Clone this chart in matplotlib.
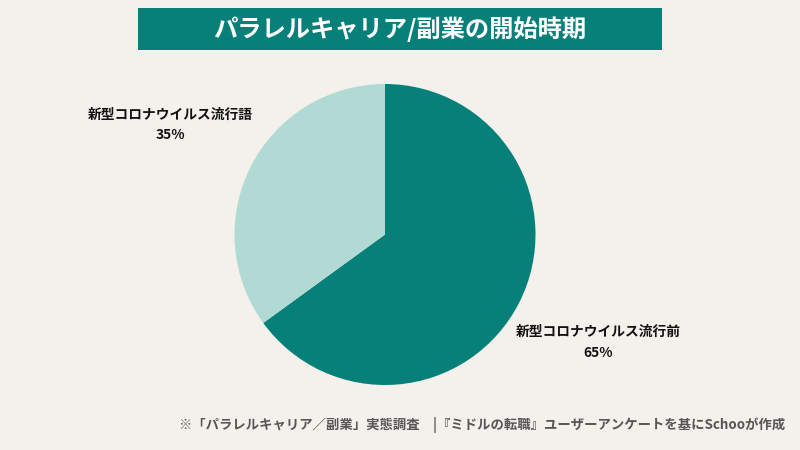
import matplotlib
matplotlib.use('Agg')
import matplotlib.pyplot as plt
from matplotlib.patches import Rectangle

plt.rcParams['font.family'] = ['Noto Sans CJK JP', 'DejaVu Sans']

labels = ['新型コロナウイルス流行前', '新型コロナウイルス流行語']
values = [65, 35]
colors = ['#08807a', '#b2dad4']
title = 'パラレルキャリア/副業の開始時期'
note = '※「パラレルキャリア／副業」実態調査　|『ミドルの転職』ユーザーアンケートを基にSchooが作成'

bg = '#f4f1ec'
fig = plt.figure(figsize=(8, 4.5), dpi=100, facecolor=bg)

# pie: center (385, 235), radius 150 px
ax = fig.add_axes([234.5 / 800, 1 - 385 / 450, 301 / 800, 301 / 450])
ax.pie(values, colors=colors, startangle=90, counterclock=False, radius=1,
       wedgeprops={'linewidth': 0})
ax.set_xlim(-1, 1)
ax.set_ylim(-1, 1)
ax.set_aspect('equal')

# title band
fig.patches.append(Rectangle((138 / 800, 1 - 50 / 450), 524 / 800, 42 / 450,
                             transform=fig.transFigure, facecolor='#08807a', edgecolor='none'))
fig.text(400 / 800, 1 - 29 / 450, title, color='white', fontsize=17.5, fontweight='bold',
         ha='center', va='center')

fig.text(598 / 800, 1 - 332 / 450, labels[0], color='#111111', fontsize=9.9, fontweight='bold',
         ha='center', va='center')
fig.text(598 / 800, 1 - 353 / 450, f'{values[0]}%', color='#111111', fontsize=9.9, fontweight='bold',
         ha='center', va='center')
fig.text(170 / 800, 1 - 115 / 450, labels[1], color='#111111', fontsize=9.9, fontweight='bold',
         ha='center', va='center')
fig.text(170 / 800, 1 - 135 / 450, f'{values[1]}%', color='#111111', fontsize=9.9, fontweight='bold',
         ha='center', va='center')

fig.text(785 / 800, 1 - 425 / 450, note, color='#555555', fontsize=9.6, fontweight='bold',
         ha='right', va='center')

fig.savefig('out.png', dpi=100, facecolor=bg)
